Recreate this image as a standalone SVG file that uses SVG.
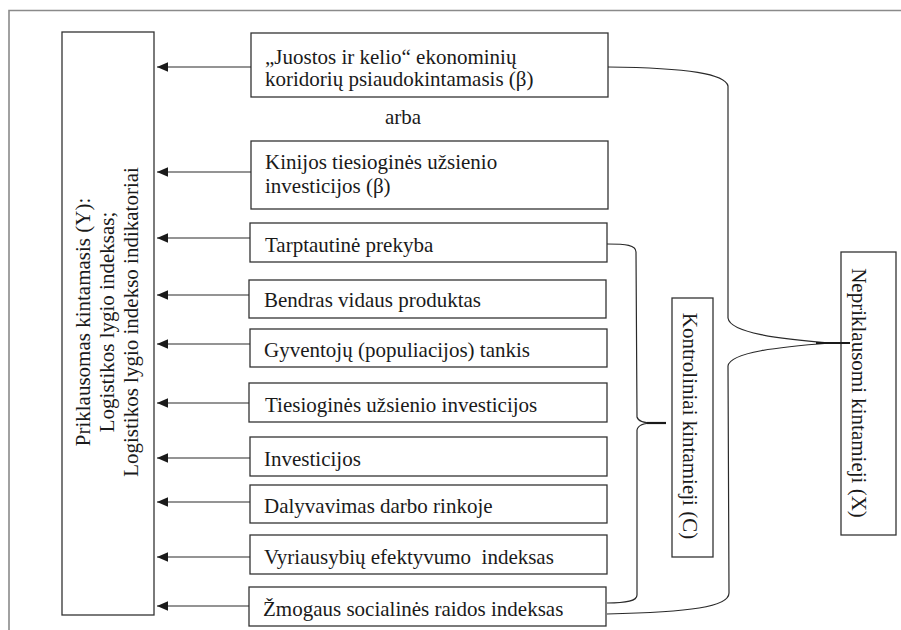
<svg xmlns="http://www.w3.org/2000/svg" width="901" height="630" viewBox="0 0 901 630">
  <style>
    .box { fill: #ffffff; stroke: #333333; stroke-width: 1.3; }
    .lbl { font-family: "Liberation Serif", "Times New Roman", serif; font-size: 21px; fill: #1a1a1a; }
    .mid { text-anchor: middle; }
    .arrow { stroke: #2a2a2a; stroke-width: 1.2; fill: none; marker-end: url(#head); }
    .brace { stroke: #2a2a2a; stroke-width: 1.2; fill: none; }
    .tip { stroke: #1a1a1a; stroke-width: 2.2; fill: none; }
    .frame { stroke: #8a8a8a; stroke-width: 1.6; fill: none; }
  </style>
  <defs>
    <marker id="head" markerUnits="userSpaceOnUse" markerWidth="13" markerHeight="11" refX="11" refY="5.5" orient="auto">
      <path d="M0,0.8 L11,5.5 L0,10.2 Z" fill="#1a1a1a"/>
    </marker>
  </defs>
  <rect width="901" height="630" fill="#ffffff"/>

  <!-- outer frame (top and left edges) -->
  <path class="frame" d="M9,630 L9,10.5 L901,10.5"/>

  <!-- dependent variable -->
  <g id="node-y">
    <rect class="box" x="62" y="32" width="92" height="583"/>
    <text class="lbl mid" transform="translate(90,322) rotate(-90)">Priklausomas kintamasis (Y):</text>
    <text class="lbl mid" transform="translate(114,322) rotate(-90)">Logistikos lygio indeksas;</text>
    <text class="lbl mid" transform="translate(138,322) rotate(-90)">Logistikos lygio indekso indikatoriai</text>
  </g>

  <g id="node-brc">
    <rect class="box" x="251" y="33" width="357" height="64"/>
    <text class="lbl" x="265" y="64">„Juostos ir kelio“ ekonominių</text>
    <text class="lbl" x="265" y="86">koridorių psiaudokintamasis (β)</text>
  </g>

  <g id="label-arba">
    <text class="lbl mid" x="403" y="124">arba</text>
  </g>

  <g id="node-china-fdi">
    <rect class="box" x="251" y="141" width="357" height="68"/>
    <text class="lbl" x="265" y="169">Kinijos tiesioginės užsienio</text>
    <text class="lbl" x="265" y="193">investicijos (β)</text>
  </g>

  <g id="node-trade">
    <rect class="box" x="250" y="223" width="357" height="39"/>
    <text class="lbl" x="265" y="252">Tarptautinė prekyba</text>
  </g>

  <g id="node-gdp">
    <rect class="box" x="249" y="280" width="357" height="38"/>
    <text class="lbl" x="264" y="307">Bendras vidaus produktas</text>
  </g>

  <g id="node-density">
    <rect class="box" x="250" y="329" width="357" height="38"/>
    <text class="lbl" x="264" y="357">Gyventojų (populiacijos) tankis</text>
  </g>

  <g id="node-fdi">
    <rect class="box" x="249" y="383" width="358" height="39"/>
    <text class="lbl" x="265" y="412">Tiesioginės užsienio investicijos</text>
  </g>

  <g id="node-invest">
    <rect class="box" x="250" y="437" width="357" height="39"/>
    <text class="lbl" x="264" y="466">Investicijos</text>
  </g>

  <g id="node-labour">
    <rect class="box" x="250" y="485" width="357" height="38"/>
    <text class="lbl" x="264" y="513">Dalyvavimas darbo rinkoje</text>
  </g>

  <g id="node-gov">
    <rect class="box" x="250" y="535" width="357" height="39"/>
    <text class="lbl" x="264" y="564" style="white-space:pre">Vyriausybių efektyvumo  indeksas</text>
  </g>

  <g id="node-hdi">
    <rect class="box" x="249" y="587" width="357" height="39"/>
    <text class="lbl" x="263" y="616">Žmogaus socialinės raidos indeksas</text>
  </g>

  <g id="node-control">
    <rect class="box" x="672" y="298" width="41" height="259"/>
    <text class="lbl mid" transform="translate(683,426) rotate(90)">Kontroliniai kintamieji (C)</text>
  </g>

  <g id="node-independent">
    <rect class="box" x="841" y="252" width="55" height="283"/>
    <text class="lbl mid" transform="translate(852,393) rotate(90)">Nepriklausomi kintamieji (X)</text>
  </g>

  <g id="connectors">
    <!-- arrows into the dependent variable -->
    <line class="arrow" x1="251" y1="67" x2="157" y2="67"/>
    <line class="arrow" x1="251" y1="172" x2="157" y2="172"/>
    <line class="arrow" x1="250" y1="238" x2="157" y2="238"/>
    <line class="arrow" x1="249" y1="295" x2="157" y2="295"/>
    <line class="arrow" x1="250" y1="344" x2="157" y2="344"/>
    <line class="arrow" x1="249" y1="403" x2="157" y2="403"/>
    <line class="arrow" x1="250" y1="458" x2="157" y2="458"/>
    <line class="arrow" x1="250" y1="502" x2="157" y2="502"/>
    <line class="arrow" x1="250" y1="557" x2="157" y2="557"/>
    <line class="arrow" x1="249" y1="606" x2="157" y2="606"/>

    <!-- brace grouping the independent variables -->
    <path class="brace" d="M608,67 C690,68 725,74 728,86 L728,318 C730,333 780,339 830,343"/>
    <path class="brace" d="M728,366 C730,352 780,347 830,343"/>
    <path class="brace" d="M728,366 L729,593 C729,607 690,612 607,614"/>
    <line class="tip" x1="816" y1="343" x2="850" y2="343"/>

    <!-- brace grouping the control variables -->
    <path class="brace" d="M607,244 C626,244 636,245 636,252 L637,417 C638,421 645,423 653,423"/>
    <path class="brace" d="M637,430 C638,425 645,423 653,423"/>
    <path class="brace" d="M637,430 L637,595 C637,601 627,603 607,603"/>
    <line class="tip" x1="647" y1="423" x2="666" y2="423"/>
  </g>
</svg>
